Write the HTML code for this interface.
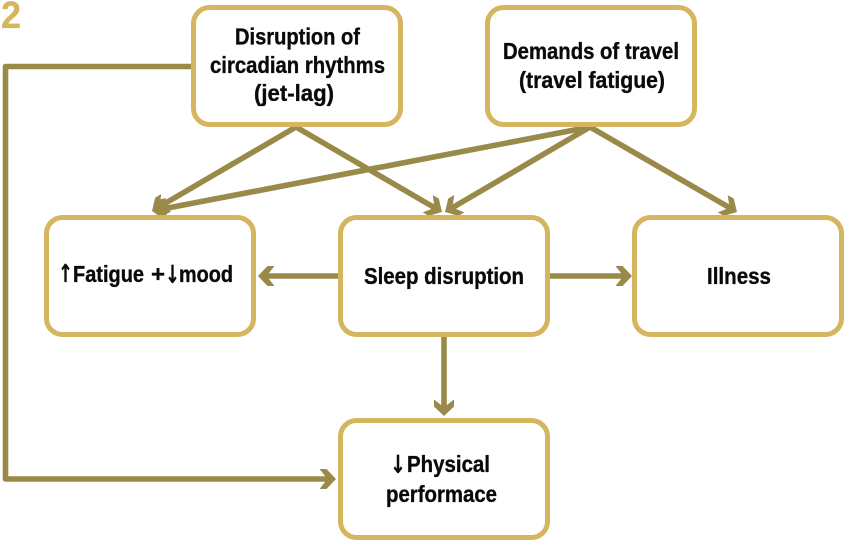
<!DOCTYPE html>
<html>
<head>
<meta charset="utf-8">
<style>
html,body{margin:0;padding:0;background:#fff;width:850px;height:546px;overflow:hidden}
svg{display:block}
text{font-family:"Liberation Sans Narrow","Liberation Sans",sans-serif;font-weight:700;font-size:23px;fill:#0a0a0a;stroke:#0a0a0a;stroke-width:.35px}
text.a{font-family:"DejaVu Sans",sans-serif;font-size:25px;stroke-width:.2px}
.b{fill:#fff;stroke:#d6b560;stroke-width:5}
.l{fill:none;stroke:#9a8a4a;stroke-width:5.6;stroke-linejoin:round}
</style>
</head>
<body>
<svg width="850" height="546" viewBox="0 0 850 546" xmlns="http://www.w3.org/2000/svg">
<defs>
<marker id="h" markerUnits="userSpaceOnUse" markerWidth="40" markerHeight="40" refX="20" refY="20" viewBox="0 0 40 40" orient="auto" overflow="visible">
<path d="M26 20 L16.5 30 L9.5 30 L15 23 L15 17 L9.5 10 L16.5 10 Z" fill="#9a8a4a"/>
</marker>
</defs>
<text x="1" y="28" textLength="20" lengthAdjust="spacingAndGlyphs" style="font-size:38px;fill:#d6b560;stroke:#d6b560;stroke-width:.3px;font-family:'Liberation Sans',sans-serif">2</text>

<path class="l" d="M191 66.5 H5.5 V479 H330" marker-end="url(#h)"/>
<line class="l" x1="296" y1="127" x2="157.2" y2="208" marker-end="url(#h)"/>
<line class="l" x1="296" y1="127" x2="436.8" y2="209" marker-end="url(#h)"/>
<line class="l" x1="590" y1="127" x2="157.9" y2="209.9" marker-end="url(#h)"/>
<line class="l" x1="590" y1="127" x2="450.2" y2="209" marker-end="url(#h)"/>
<line class="l" x1="590" y1="127" x2="731.8" y2="209" marker-end="url(#h)"/>
<line class="l" x1="340" y1="276" x2="264" y2="276" marker-end="url(#h)"/>
<line class="l" x1="550" y1="276" x2="626" y2="276" marker-end="url(#h)"/>
<line class="l" x1="444" y1="337" x2="444" y2="410" marker-end="url(#h)"/>

<rect class="b" x="193.5" y="7.5" width="207" height="117" rx="16"/>
<rect class="b" x="487.5" y="7.5" width="207" height="117" rx="16"/>
<rect class="b" x="46.5" y="217.5" width="207" height="117" rx="16"/>
<rect class="b" x="340.5" y="217.5" width="207" height="117" rx="16"/>
<rect class="b" x="634.5" y="217.5" width="207" height="117" rx="16"/>
<rect class="b" x="340.5" y="420.5" width="207" height="117" rx="16"/>

<text x="235" y="44.5" textLength="125" lengthAdjust="spacingAndGlyphs">Disruption of</text>
<text x="210" y="73" textLength="175" lengthAdjust="spacingAndGlyphs">circadian rhythms</text>
<text x="254" y="101" textLength="80" lengthAdjust="spacingAndGlyphs">(jet-lag)</text>
<text x="503" y="59" textLength="176" lengthAdjust="spacingAndGlyphs">Demands of travel</text>
<text x="519" y="88" textLength="146" lengthAdjust="spacingAndGlyphs">(travel fatigue)</text>

<text class="a" x="58" y="282" textLength="15" lengthAdjust="spacingAndGlyphs">↑</text>
<text x="73" y="282" textLength="71" lengthAdjust="spacingAndGlyphs">Fatigue</text>
<text x="151" y="282" textLength="14" lengthAdjust="spacingAndGlyphs">+</text>
<text class="a" x="165" y="283" textLength="15" lengthAdjust="spacingAndGlyphs">↓</text>
<text x="179" y="282" textLength="54" lengthAdjust="spacingAndGlyphs">mood</text>

<text x="364" y="284" textLength="160" lengthAdjust="spacingAndGlyphs">Sleep disruption</text>
<text x="707" y="284" textLength="64" lengthAdjust="spacingAndGlyphs">Illness</text>

<text class="a" x="390" y="473" textLength="16" lengthAdjust="spacingAndGlyphs">↓</text>
<text x="407" y="472" textLength="83" lengthAdjust="spacingAndGlyphs">Physical</text>
<text x="386" y="502" textLength="111" lengthAdjust="spacingAndGlyphs">performace</text>
</svg>
</body>
</html>
